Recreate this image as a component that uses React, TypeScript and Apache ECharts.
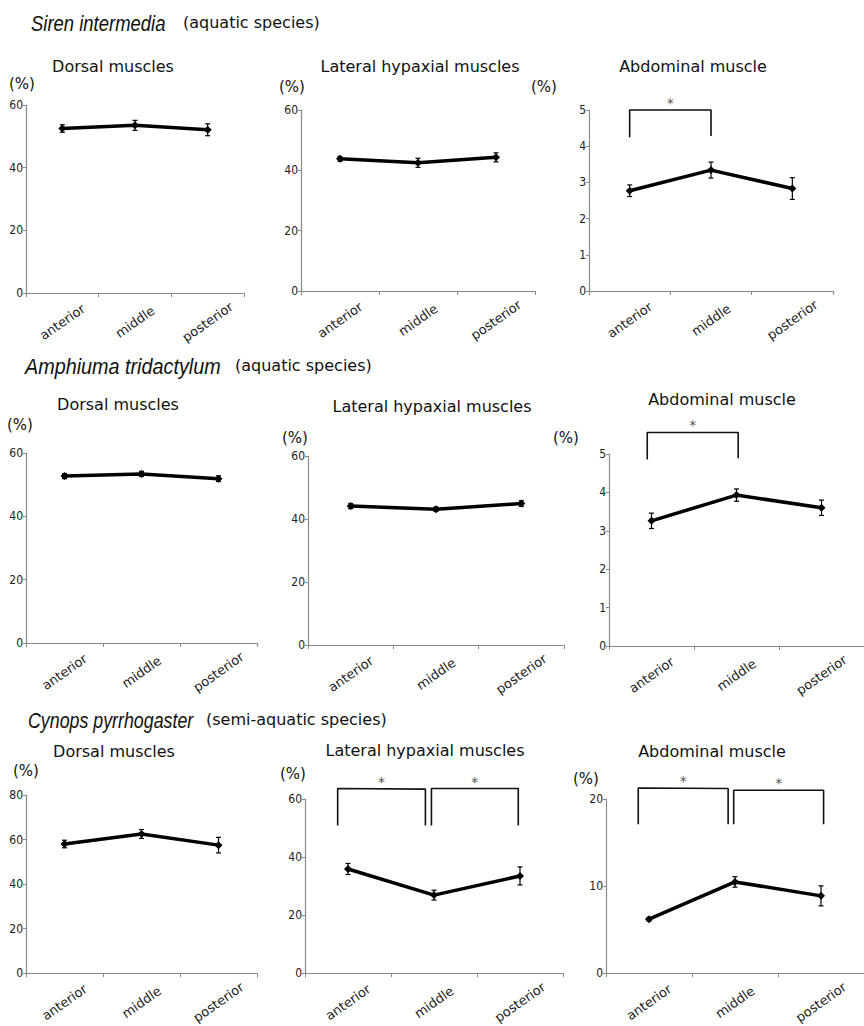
import React, { useEffect, useRef } from 'react';
import * as echarts from 'echarts';

// ---------- data ----------
const categories = ['anterior', 'middle', 'posterior'];

const sirenDorsal = [52.5, 53.5, 52.1];
const sirenDorsalErr = [1.2, 1.6, 1.9];
const sirenLateral = [43.8, 42.5, 44.3];
const sirenLateralErr = [0.8, 1.5, 1.5];
const sirenAbd = [2.77, 3.34, 2.83];
const sirenAbdErr = [0.16, 0.22, 0.3];

const amphDorsal = [52.7, 53.4, 51.9];
const amphDorsalErr = [0.8, 0.8, 0.9];
const amphLateral = [44.1, 43.1, 44.9];
const amphLateralErr = [0.8, 0.7, 0.9];
const amphAbd = [3.26, 3.93, 3.6];
const amphAbdErr = [0.2, 0.16, 0.2];

const cynDorsal = [58.0, 62.5, 57.5];
const cynDorsalErr = [1.7, 2.0, 3.5];
const cynLateral = [35.9, 26.9, 33.5];
const cynLateralErr = [1.9, 1.7, 3.1];
const cynAbd = [6.2, 10.48, 8.88];
const cynAbdErr = [0.2, 0.6, 1.15];

// significance brackets: [x (category index units), y (axis value)]
const sirenAbdBrackets = [[[0, 4.25], [0, 5], [1, 5], [1, 4.28]]];
const amphAbdBrackets = [[[-0.05, 4.86], [-0.05, 5.56], [1.02, 5.56], [1.02, 4.89]]];
const cynLateralBrackets = [
  [[-0.12, 50.9], [-0.12, 63.6], [0.9, 63.4], [0.9, 50.9]],
  [[0.97, 50.9], [0.97, 63.6], [1.98, 63.6], [1.98, 50.9]],
];
const cynAbdBrackets = [
  [[-0.125, 17.1], [-0.125, 21.27], [0.92, 21.2], [0.92, 17.1]],
  [[0.985, 17.1], [0.985, 21.0], [2.03, 21.0], [2.03, 17.1]],
];

const yMax = [60, 60, 5, 60, 60, 5, 80, 60, 20];
const yInterval = [20, 20, 1, 20, 20, 1, 20, 20, 10];

const speciesTitles = ['Siren intermedia', 'Amphiuma tridactylum', 'Cynops pyrrhogaster'];
const speciesNotes = ['(aquatic species)', '(aquatic species)', '(semi-aquatic species)'];
const muscleNames = ['Dorsal muscles', 'Lateral hypaxial muscles', 'Abdominal muscle'];

// ---------- layout ----------
const NARROW = '"DejaVu Sans Condensed", "Liberation Sans Narrow", sans-serif';
const SANS = '"DejaVu Sans", Verdana, sans-serif';
const TITLE_FONT = '"Liberation Sans", Arial, sans-serif';

const panels = [
  { v: sirenDorsal, e: sirenDorsalErr, b: [], grid: { left: 26, top: 105, width: 218, height: 188 }, pct: [9, 84], sub: [113, 66] },
  { v: sirenLateral, e: sirenLateralErr, b: [], grid: { left: 301, top: 110, width: 234, height: 181 }, pct: [279, 87], sub: [420, 66] },
  { v: sirenAbd, e: sirenAbdErr, b: sirenAbdBrackets, grid: { left: 589, top: 110, width: 244, height: 181 }, pct: [531, 87], sub: [693, 66] },
  { v: amphDorsal, e: amphDorsalErr, b: [], grid: { left: 26, top: 453, width: 231, height: 190 }, pct: [7, 425], sub: [118, 404] },
  { v: amphLateral, e: amphLateralErr, b: [], grid: { left: 308, top: 456, width: 256, height: 189 }, pct: [282, 438], sub: [432, 406] },
  { v: amphAbd, e: amphAbdErr, b: amphAbdBrackets, grid: { left: 609, top: 454, width: 259, height: 192 }, pct: [553, 438], sub: [722, 399] },
  { v: cynDorsal, e: cynDorsalErr, b: [], grid: { left: 26, top: 795, width: 231, height: 188 }, pct: [13, 771], sub: [114, 751] },
  { v: cynLateral, e: cynLateralErr, b: cynLateralBrackets, grid: { left: 305, top: 799, width: 258, height: 187 }, pct: [280, 774], sub: [425, 750] },
  { v: cynAbd, e: cynAbdErr, b: cynAbdBrackets, grid: { left: 606, top: 799, width: 264, height: 189 }, pct: [573, 779], sub: [712, 751] },
];

const titlePos = [
  { t: [31, 23], n: [183, 22], s: 0.84 },
  { t: [25, 366], n: [235, 365], s: 0.9 },
  { t: [28, 720], n: [206, 719], s: 0.81 },
];

function buildOption() {
  const grid: any[] = [];
  const xAxis: any[] = [];
  const yAxis: any[] = [];
  const series: any[] = [];
  const graphic: any[] = [];

  panels.forEach((p, i) => {
    grid.push({ ...p.grid, containLabel: false });
    xAxis.push({
      type: 'category',
      gridIndex: i,
      data: categories,
      boundaryGap: true,
      axisLine: { onZero: false, lineStyle: { color: '#8a8a8a', width: 1.2 } },
      axisTick: { show: true, length: 4, lineStyle: { color: '#8a8a8a' } },
      axisLabel: {
        rotate: 35,
        align: 'center',
        verticalAlign: 'middle',
        margin: 29,
        fontSize: 13,
        fontFamily: SANS,
        color: '#222',
      },
    });
    xAxis.push({ type: 'value', gridIndex: i, min: -0.5, max: 2.5, show: false });
    yAxis.push({
      type: 'value',
      gridIndex: i,
      min: 0,
      max: yMax[i],
      interval: yInterval[i],
      axisLine: { show: true, onZero: false, lineStyle: { color: '#8a8a8a', width: 1.2 } },
      axisTick: { show: true, length: 3, lineStyle: { color: '#8a8a8a' } },
      axisLabel: { fontSize: 12, fontFamily: NARROW, color: '#222', margin: 3 },
      splitLine: { show: false },
    });

    series.push({
      type: 'line',
      xAxisIndex: 2 * i,
      yAxisIndex: i,
      data: p.v,
      symbol: 'diamond',
      symbolSize: 8,
      itemStyle: { color: '#000' },
      lineStyle: { color: '#000', width: 3.5 },
      z: 3,
    });
    series.push({
      type: 'custom',
      xAxisIndex: 2 * i,
      yAxisIndex: i,
      data: p.v.map((v, k) => [k, v - p.e[k], v + p.e[k]]),
      encode: { x: 0, y: [1, 2] },
      z: 4,
      renderItem: (params: any, api: any) => {
        const x = api.value(0);
        const lo = api.coord([x, api.value(1)]);
        const hi = api.coord([x, api.value(2)]);
        const w = 2.5;
        const st = { stroke: '#000', lineWidth: 1.2 };
        return {
          type: 'group',
          children: [
            { type: 'line', shape: { x1: lo[0], y1: lo[1], x2: hi[0], y2: hi[1] }, style: st },
            { type: 'line', shape: { x1: lo[0] - w, y1: lo[1], x2: lo[0] + w, y2: lo[1] }, style: st },
            { type: 'line', shape: { x1: hi[0] - w, y1: hi[1], x2: hi[0] + w, y2: hi[1] }, style: st },
          ],
        };
      },
    });
    p.b.forEach((br: number[][]) => {
      series.push({
        type: 'line',
        xAxisIndex: 2 * i + 1,
        yAxisIndex: i,
        data: br,
        clip: false,
        symbol: 'none',
        lineStyle: { color: '#111', width: 1.6 },
        silent: true,
      });
      series.push({
        type: 'scatter',
        xAxisIndex: 2 * i + 1,
        yAxisIndex: i,
        clip: false,
        symbolSize: 0,
        data: [[(br[1][0] + br[2][0]) / 2, Math.max(br[1][1], br[2][1])]],
        label: {
          show: true,
          position: 'top',
          distance: 0,
          formatter: '*',
          fontSize: 14,
          fontFamily: SANS,
          color: '#222',
        },
        silent: true,
      });
    });

    graphic.push({
      type: 'text',
      x: p.pct[0],
      y: p.pct[1],
      style: {
        text: '(%)',
        fontSize: 15,
        fontFamily: SANS,
        fill: '#111',
        align: 'left',
        textAlign: 'left',
        verticalAlign: 'middle',
        textVerticalAlign: 'middle',
      },
    });
    graphic.push({
      type: 'text',
      x: p.sub[0],
      y: p.sub[1],
      style: {
        text: muscleNames[i % 3],
        fontSize: 16,
        fontFamily: SANS,
        fill: '#111',
        align: 'center',
        textAlign: 'center',
        verticalAlign: 'middle',
        textVerticalAlign: 'middle',
      },
    });
  });

  titlePos.forEach((tp, r) => {
    graphic.push({
      type: 'text',
      x: tp.t[0],
      y: tp.t[1],
      scaleX: tp.s,
      style: {
        text: speciesTitles[r],
        fontSize: 22,
        fontStyle: 'italic',
        fontFamily: TITLE_FONT,
        fill: '#111',
        align: 'left',
        textAlign: 'left',
        verticalAlign: 'middle',
        textVerticalAlign: 'middle',
      },
    });
    graphic.push({
      type: 'text',
      x: tp.n[0],
      y: tp.n[1],
      style: {
        text: speciesNotes[r],
        fontSize: 16,
        fontFamily: SANS,
        fill: '#111',
        align: 'left',
        textAlign: 'left',
        verticalAlign: 'middle',
        textVerticalAlign: 'middle',
      },
    });
  });

  return {
    animation: false,
    backgroundColor: '#fff',
    grid,
    xAxis,
    yAxis,
    series,
    graphic,
  };
}

export default function App() {
  const ref = useRef<HTMLDivElement>(null);
  useEffect(() => {
    if (!ref.current) return;
    const chart = echarts.init(ref.current, undefined, { renderer: 'svg' });
    chart.setOption(buildOption() as any);
    return () => chart.dispose();
  }, []);
  return (
    <div
      ref={ref}
      style={{ position: 'fixed', left: 0, top: 0, width: 864, height: 1026, background: '#fff' }}
    />
  );
}
